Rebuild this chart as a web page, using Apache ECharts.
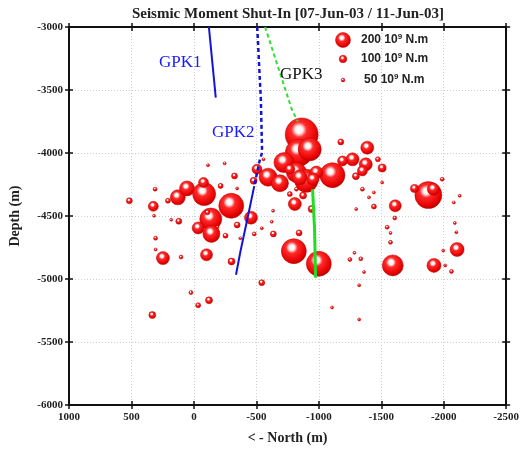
<!DOCTYPE html>
<html><head><meta charset="utf-8">
<script src="https://cdn.jsdelivr.net/npm/echarts@6/dist/echarts.min.js"></script>
<style>html,body{margin:0;padding:0;background:#fff}#c{width:522px;height:450px}</style>
</head><body><div id="c"></div>
<script>
// Seismic events: North coordinate (m), depth (m), seismic moment (10^9 N.m)
const eventX = [517,325,311,208,129,55,-82,-77,-113,-246,-214,-325,-346,-299,-135,-34,-140,-108,121,182,319,307,307,248,103,-101,-301,-253,-346,-457,-505,-478,-483,-544,-636,-623,-634,-543,24,-121,-34,333,-188,-372,
  -863,-840,-927,-721,-821,-900,-594,-689,-1109,-980,-1176,-1388,-1270,-1190,-1376,-1349,-1297,-1507,-1473,-808,-942,-874,-768,-821,-1349,-1441,-1402,-1299,-1612,-557,-768,-953,-847,
  -1441,-1507,-1608,-1547,-1574,-1574,-1877,-1766,-1917,-1988,-2081,-2128,-2089,-2101,-2107,-800,-1000,-1592,-1922,-2062,-2012,-1996,-1336,-1249,-1285,-1362,-1323,-1106,-1323,-842];
const eventY = [-4379,-4423,-4287,-4379,-4352,-4281,-4326,-4234,-4097,-4082,-4261,-4182,-4281,-4419,-4524,-4595,-4642,-4471,-4542,-4529,-4498,-4676,-4766,-4834,-4826,-4808,-4861,-4656,-4571,-4513,-4129,-4221,-4642,-4597,-4642,-4545,-4458,-5029,-5108,-5169,-5208,-5286,-4589,-4676,
  -3853,-3997,-3971,-4076,-4155,-4221,-4192,-4240,-4176,-4155,-3912,-3958,-4050,-4063,-4090,-4142,-4184,-4119,-4050,-4405,-4445,-4338,-4326,-4287,-4287,-4425,-4352,-4445,-4419,-4050,-4129,-4208,-4195,
  -4313,-4234,-4516,-4589,-4634,-4709,-4334,-4281,-4287,-4208,-4392,-4340,-4555,-4629,-4766,-4779,-4879,-4892,-4892,-4940,-4892,-4774,-4840,-4845,-4792,-4945,-5050,-5226,-5321,-4634];
const eventM = [80,133,53,67,200,200,307,133,40,40,67,80,40,333,293,160,227,67,80,40,40,53,40,173,53,160,93,67,80,173,133,93,53,40,80,40,40,80,53,93,67,93,40,40,
  440,360,307,267,267,307,240,227,333,173,80,173,173,133,173,133,93,107,67,173,93,93,67,53,53,67,40,40,160,40,133,160,200,
  40,40,53,53,40,53,360,107,160,53,40,40,40,40,187,333,333,280,187,53,40,40,53,53,40,40,40,40,40,80];

// Well trajectories
const gpk1X = [-120,-175];
const gpk1Y = [-3000,-3560];
const gpk2DashX = [-507,-536,-546,-523,-483];
const gpk2DashY = [-3000,-3576,-3995,-4074,-4263];
const gpk2SolidX = [-483,-428,-372,-337];
const gpk2SolidY = [-4263,-4524,-4784,-4966];
const gpk3DashX = [-570,-784,-832];
const gpk3DashY = [-3000,-3655,-3750];
const gpk3SolidX = [-950,-966,-974];
const gpk3SolidY = [-4287,-4603,-4990];

// Axes
const xMin = -2500, xMax = 1000, xStep = 500;
const yMin = -6000, yMax = -3000, yStep = 500;
const legendValues = [200, 100, 50];

const SIZE_PER_UNIT = 0.075;
const serif = '"Liberation Serif","Times New Roman",serif';
const sans = '"Liberation Sans",Arial,sans-serif';

const bubbleFill = {type:'radial', x:0.42, y:0.36, r:0.68, colorStops:[
  {offset:0,color:'#ffffff'},{offset:0.16,color:'#fff2f2'},{offset:0.34,color:'#ff2a2a'},
  {offset:0.78,color:'#e60000'},{offset:1,color:'#a80000'}]};

const zip = (xs, ys) => xs.map((x,i)=>[x, ys[i]]);
const events = eventX.map((x,i)=>[x, eventY[i], eventM[i]]);

const chart = echarts.init(document.getElementById('c'), null, {renderer:'canvas'});

const gridLine = {show:true, lineStyle:{color:'#cfcfcf', type:[1,2], width:1}};
const axisLineStyle = {show:true, onZero:false, lineStyle:{color:'#111', width:2}};
const plain = v => String(v);

function xAx(pos, inside, labels, split) {
  return {type:'value', min:xMin, max:xMax, interval:xStep, inverse:true, position:pos,
    axisLine:axisLineStyle, axisTick:{show:true, inside:inside, length:4, lineStyle:{color:'#111', width:1.5}},
    axisLabel:{show:labels, formatter:plain, fontFamily:serif, fontWeight:'bold', fontSize:11, color:'#222', margin:7},
    splitLine: split ? gridLine : {show:false},
    name: labels ? '< - North (m)' : '', nameLocation:'middle', nameGap:26,
    nameTextStyle:{fontFamily:serif, fontWeight:'bold', fontSize:14, color:'#222'}};
}
function yAx(pos, inside, labels, split) {
  return {type:'value', min:yMin, max:yMax, interval:yStep, position:pos,
    axisLine:axisLineStyle, axisTick:{show:true, inside:inside, length:4, lineStyle:{color:'#111', width:1.5}},
    axisLabel:{show:labels, formatter:plain, fontFamily:serif, fontWeight:'bold', fontSize:11, color:'#222', margin:6},
    splitLine: split ? gridLine : {show:false},
    name: labels ? 'Depth (m)' : '', nameLocation:'middle', nameGap:47, nameRotate:90,
    nameTextStyle:{fontFamily:serif, fontWeight:'bold', fontSize:14, color:'#222'}};
}

const legendY = [40, 59, 80];
const graphic = [];
legendValues.forEach((v,i)=>{
  graphic.push({type:'circle', shape:{cx:343, cy:legendY[i], r:v*SIZE_PER_UNIT/2}, style:{fill:bubbleFill, stroke:'#c00000', lineWidth:0.5}, z:10});
  graphic.push({type:'text', x: v>=100 ? 361 : 364, y:legendY[i], style:{
    text:'{n|'+v+' 10}{s|9}{n| N.m}', verticalAlign:'middle',
    rich:{n:{fontFamily:sans, fontWeight:'bold', fontSize:12, fill:'#222', lineHeight:14},
          s:{fontFamily:sans, fontWeight:'bold', fontSize:8, fill:'#222', verticalAlign:'top', lineHeight:14, padding:[0,0,6,0]}}}, z:10});
});
graphic.push({type:'text', x:159, y:54, style:{text:'GPK1', fontFamily:serif, fontSize:17, fill:'#1a1aff'}, z:10});
graphic.push({type:'text', x:212, y:124, style:{text:'GPK2', fontFamily:serif, fontSize:17, fill:'#1a1aff'}, z:10});
graphic.push({type:'text', x:280, y:66, style:{text:'GPK3', fontFamily:serif, fontSize:17, fill:'#111'}, z:10});

const lineBase = {type:'line', showSymbol:false, symbol:'none', silent:true, z:5, xAxisIndex:0, yAxisIndex:0};

chart.setOption({
  animation:false,
  backgroundColor:'#fff',
  title:{text:'Seismic Moment Shut-In [07-Jun-03 / 11-Jun-03]', left:283, top:2, textAlign:'center',
    textStyle:{fontFamily:serif, fontWeight:'bold', fontSize:15, color:'#222'}},
  grid:{left:67, right:13, top:27, bottom:43},
  xAxis:[xAx('bottom', false, true, true), xAx('top', false, false, false), xAx('bottom', true, false, false), xAx('top', true, false, false)],
  yAxis:[yAx('left', false, true, true), yAx('right', false, false, false), yAx('left', true, false, false), yAx('right', true, false, false)],
  graphic: graphic,
  series:[
    {type:'scatter', data:events, xAxisIndex:0, yAxisIndex:0, z:3,
      symbolSize: d => d[2]*SIZE_PER_UNIT,
      itemStyle:{color:bubbleFill, borderColor:'#c00000', borderWidth:0.5, opacity:1}},
    Object.assign({}, lineBase, {data:zip(gpk1X,gpk1Y), lineStyle:{color:'#1414d8', width:2}}),
    Object.assign({}, lineBase, {data:zip(gpk2DashX,gpk2DashY), lineStyle:{color:'#1414d8', width:2.5, type:[4,3]}}),
    Object.assign({}, lineBase, {data:zip(gpk2SolidX,gpk2SolidY), lineStyle:{color:'#1414d8', width:2}}),
    Object.assign({}, lineBase, {data:zip(gpk3DashX,gpk3DashY), lineStyle:{color:'#33dd33', width:2, type:[4,3]}}),
    Object.assign({}, lineBase, {data:zip(gpk3SolidX,gpk3SolidY), lineStyle:{color:'#22dd22', width:3}})
  ]
});
</script></body></html>
